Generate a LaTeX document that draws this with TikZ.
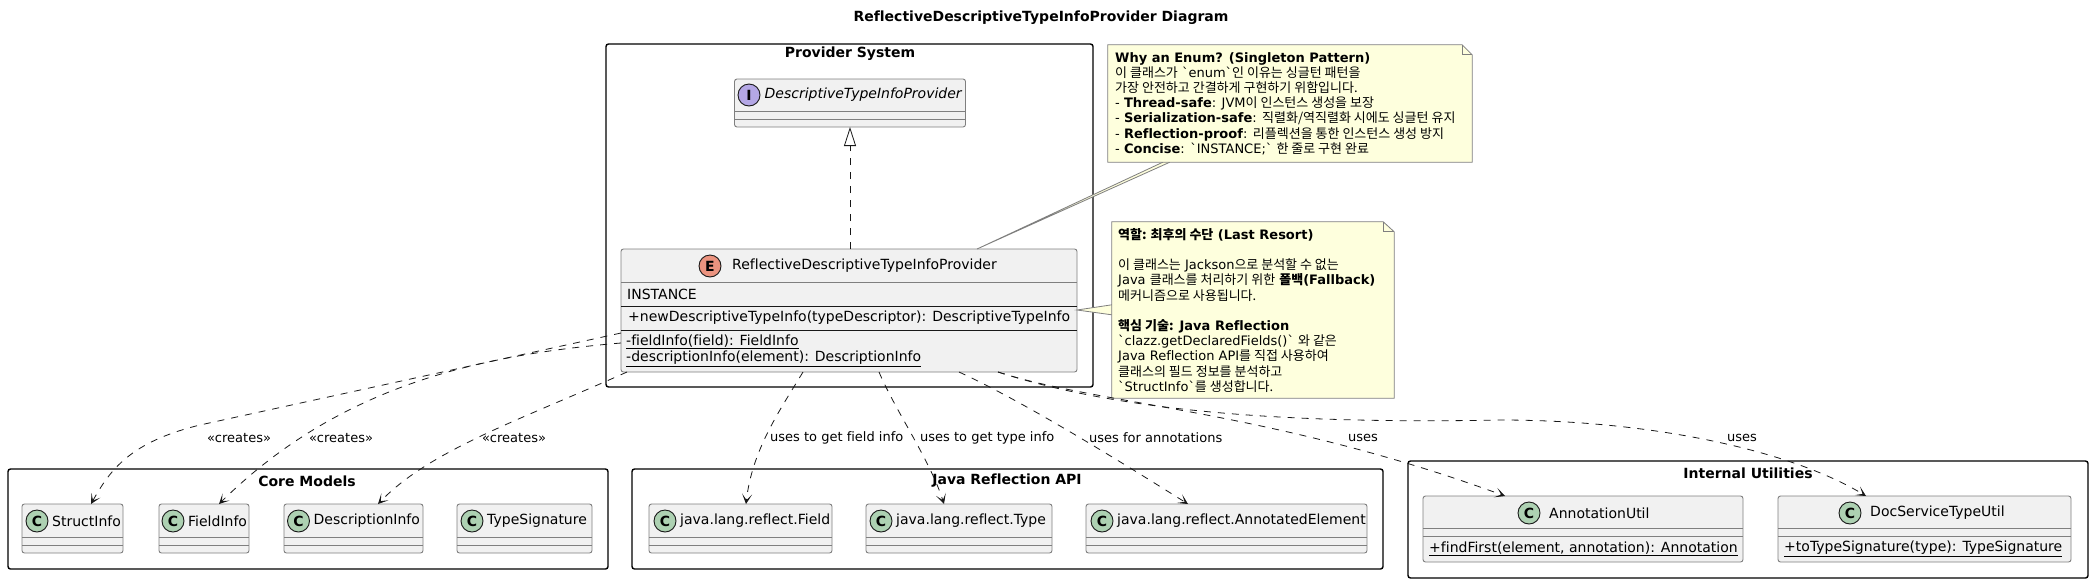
\documentclass[tikz,border=0pt]{standalone}
\usepackage{fontspec}
\usepackage{xcolor}
\usetikzlibrary{arrows.meta}
\newfontfamily\dejavu{DejaVu Sans}[Ligatures=NoCommon]
\newfontfamily\krfont{Noto Sans CJK KR}
\newcommand{\kr}[1]{{\krfont #1}}
\definecolor{boxfill}{HTML}{F1F1F1}
\definecolor{boxedge}{HTML}{7F7F7F}
\definecolor{notefill}{HTML}{FEFFDD}
\definecolor{inkdark}{HTML}{181818}
\definecolor{spotclass}{HTML}{ADD1B2}
\definecolor{spotenum}{HTML}{EB937F}
\definecolor{spotface}{HTML}{B4A7E5}
\tikzset{
	pkgbox/.style={draw=black, line width=1.4pt, rounded corners=2.5pt, inner sep=0pt, outer sep=0pt},
	pkgtitle/.style={font=\dejavu\bfseries\fontsize{14}{16}\selectfont, text=black},
	classbox/.style={draw=boxedge, fill=boxfill, line width=0.9pt, rounded corners=2.5pt, inner sep=0pt, outer sep=0pt},
	classline/.style={draw=boxedge, line width=0.9pt},
	memberline/.style={draw=inkdark, line width=0.9pt},
	spot/.style={circle, draw=inkdark, line width=0.9pt, minimum size=22pt, inner sep=0pt, font=\dejavu\bfseries\fontsize{14}{14}\selectfont},
	classtext/.style={anchor=west, inner sep=0pt, font=\dejavu\fontsize{14}{16}\selectfont, text=black},
	notetext/.style={anchor=north west, inner sep=0pt, align=left, font=\dejavu\fontsize{13}{15.2}\selectfont, text=black},
	noteshape/.style={draw=boxedge, fill=notefill, line width=0.8pt, line join=miter},
	edgelabel/.style={anchor=west, inner sep=0pt, font=\dejavu\fontsize{13}{15}\selectfont, text=black},
	dep/.style={draw=inkdark, line width=0.8pt, dash pattern=on 7pt off 7pt, -{Stealth[length=10pt,width=10pt,inset=6pt]}},
	realize/.style={draw=inkdark, line width=0.8pt, dash pattern=on 7pt off 7pt, -{Triangle[open,length=19pt,width=12pt]}}
}
\begin{document}
\begin{tikzpicture}[x=1pt,y=-1pt]
	\useasboundingbox (0,0) rectangle (2093,582);
	
	% Title
	\node (title) at (1041,18) [pkgtitle] {ReflectiveDescriptiveTypeInfoProvider Diagram};
	
	% Packages
	\node (provider) at (849.5,215.5) [pkgbox, minimum width=487pt, minimum height=343pt] {};
	\node at (850,54) [pkgtitle] {Provider System};
	\node (core) at (308,519) [pkgbox, minimum width=600pt, minimum height=100pt] {};
	\node at (307,481) [pkgtitle] {Core Models};
	\node (reflect) at (1007.5,519) [pkgbox, minimum width=751pt, minimum height=100pt] {};
	\node at (1007,481) [pkgtitle] {Java Reflection API};
	\node (internal) at (1748,519.5) [pkgbox, minimum width=680pt, minimum height=117pt] {};
	\node at (1748,473) [pkgtitle] {Internal Utilities};
	
	% Interface
	\node (iface) at (850,103) [classbox, minimum width=231pt, minimum height=48pt] {};
	\draw[classline] ([yshift=-32pt]iface.north west) -- ([yshift=-32pt]iface.north east);
	\draw[classline] ([yshift=-40pt]iface.north west) -- ([yshift=-40pt]iface.north east);
	\node (ifacespot) at (749,95) [spot, fill=spotface] {I};
	\node (ifacetext) at (764.5,95) [classtext] {\itshape DescriptiveTypeInfoProvider};
	
	% Enum
	\node (enum) at (849,310.5) [classbox, minimum width=456pt, minimum height=123pt] {};
	\draw[classline] ([yshift=-33pt]enum.north west) -- ([yshift=-33pt]enum.north east);
	\draw[memberline] ([yshift=-57pt]enum.north west) -- ([yshift=-57pt]enum.north east);
	\draw[memberline] ([yshift=-81pt]enum.north west) -- ([yshift=-81pt]enum.north east);
	\node (enumspot) at (710,266) [spot, fill=spotenum] {E};
	\node (enumtext) at (732,266) [classtext] {ReflectiveDescriptiveTypeInfoProvider};
	\node (instance) at (627,294) [classtext] {INSTANCE};
	\node (newinfo) at (628,318) [classtext] {+newDescriptiveTypeInfo(typeDescriptor): DescriptiveTypeInfo};
	\node (fieldinfo) at (626,342) [classtext] {\underline{-fieldInfo(field): FieldInfo}};
	\node (descinfo) at (626,359) [classtext] {\underline{-descriptionInfo(element): DescriptionInfo}};
	
	% Small classes
	\foreach \nm/\cx/\bw/\sx/\txt in {structInfo/72.5/101/37/StructInfo, fieldInfo/204/90/173/FieldInfo,
		descriptionInfo/353.5/139/298.5/DescriptionInfo, typeSignature/524.5/135/472/TypeSignature,
		fieldRef/740.5/183/665/java.lang.reflect.Field, typeRef/959/186/881/java.lang.reflect.Type,
		annotatedRef/1226.5/281/1102/java.lang.reflect.AnnotatedElement}
	{
		\node (\nm) at (\cx,528.5) [classbox, minimum width=\bw pt, minimum height=49pt] {};
		\draw[classline] ([yshift=-33pt]\nm.north west) -- ([yshift=-33pt]\nm.north east);
		\draw[classline] ([yshift=-41pt]\nm.north west) -- ([yshift=-41pt]\nm.north east);
		\node (\nm spot) at (\sx,521) [spot, fill=spotclass] {C};
		\pgfmathsetmacro{\tx}{\sx+15}
		\node (\nm text) at (\tx,521) [classtext] {\txt};
	}
	
	% Utility classes
	\foreach \nm/\cx/\bw/\sx/\mx/\txt/\mem in {annotationUtil/1583/320/1529/1429/AnnotationUtil/+findFirst(element{,} annotation): Annotation,
		docServiceUtil/1924.5/293/1850/1784/DocServiceTypeUtil/+toTypeSignature(type): TypeSignature}
	{
		\node (\nm) at (\cx,529) [classbox, minimum width=\bw pt, minimum height=66pt] {};
		\draw[classline] ([yshift=-32pt]\nm.north west) -- ([yshift=-32pt]\nm.north east);
		\draw[classline] ([yshift=-40pt]\nm.north west) -- ([yshift=-40pt]\nm.north east);
		\node (\nm spot) at (\sx,513) [spot, fill=spotclass] {C};
		\pgfmathsetmacro{\tx}{\sx+20}
		\node (\nm text) at (\tx,513) [classtext] {\txt};
		\node (\nm member) at (\mx,549) [classtext] {\underline{\mem}};
	}
	
	% Notes
	\node (whynote) at (1290,103.5) [minimum width=364pt, minimum height=117pt, inner sep=0pt] {};
	\coordinate (whywedgeA) at ([xshift=55pt]whynote.south west);
	\coordinate (whywedgeB) at ([xshift=62pt]whynote.south west);
	\draw[noteshape] (whywedgeA) -- ([xshift=356pt]enum.north west) -- (whywedgeB);
	\draw[noteshape] (whynote.south west) -- (whynote.north west) -- ([xshift=-10pt]whynote.north east)
		-- ([yshift=-10pt]whynote.north east) -- (whynote.south east) -- (whywedgeB) -- (whywedgeA) -- cycle;
	\draw[noteshape, fill=none] ([xshift=-10pt]whynote.north east) -- ([xshift=-10pt,yshift=-10pt]whynote.north east) -- ([yshift=-10pt]whynote.north east);
	\node (whytext) at (1115,52) [notetext] {\textbf{Why an Enum? (Singleton Pattern)}\\
		\kr{이 클래스가} `enum`\kr{인 이유는 싱글턴 패턴을}\\
		\kr{가장 안전하고 간결하게 구현하기 위함입니다.}\\
		- \textbf{Thread-safe}: JVM\kr{이 인스턴스 생성을 보장}\\
		- \textbf{Serialization-safe}: \kr{직렬화/역직렬화 시에도 싱글턴 유지}\\
		- \textbf{Reflection-proof}: \kr{리플렉션을 통한 인스턴스 생성 방지}\\
		- \textbf{Concise}: `INSTANCE;` \kr{한 줄로 구현 완료}};
	
	\node (rolenote) at (1253,310) [minimum width=282pt, minimum height=176pt, inner sep=0pt] {};
	\coordinate (rolewedgeA) at ([yshift=-83pt]rolenote.north west);
	\coordinate (rolewedgeB) at ([yshift=-93pt]rolenote.north west);
	\draw[noteshape] (rolewedgeA) -- ([yshift=-61pt]enum.north east) -- (rolewedgeB);
	\draw[noteshape] (rolewedgeA) -- (rolenote.north west) -- ([xshift=-11pt]rolenote.north east)
		-- ([yshift=-10pt]rolenote.north east) -- (rolenote.south east) -- (rolenote.south west) -- (rolewedgeB) -- cycle;
	\draw[noteshape, fill=none] ([xshift=-11pt]rolenote.north east) -- ([xshift=-11pt,yshift=-10pt]rolenote.north east) -- ([yshift=-10pt]rolenote.north east);
	\node (roletext) at (1118,228) [notetext] {\textbf{\kr{역할: 최후의 수단} (Last Resort)}\\[15.2pt]
		\kr{이 클래스는} Jackson\kr{으로 분석할 수 없는}\\
		Java \kr{클래스를 처리하기 위한} \textbf{\kr{폴백}(Fallback)}\\
		\kr{메커니즘으로 사용됩니다.}\\[15.2pt]
		\textbf{\kr{핵심 기술:} Java Reflection}\\
		`clazz.getDeclaredFields()` \kr{와 같은}\\
		Java Reflection API\kr{를 직접 사용하여}\\
		\kr{클래스의 필드 정보를 분석하고}\\
		`StructInfo`\kr{를 생성합니다.}};
	
	% Connectors
	\draw[realize] ([xshift=1pt]enum.north) -- (iface.south);
	\draw[dep] ([yshift=-84pt]enum.north west) -- (200,425) .. controls (130,442) and (110,470) .. ([xshift=69pt]structInfo.north west);
	\draw[dep] ([yshift=-94pt]enum.north west) .. controls (480,355) and (340,385) .. ([xshift=60pt]fieldInfo.north west);
	\draw[dep] ([xshift=6pt]enum.south west) .. controls (520,420) and (430,450) .. ([xshift=94pt]descriptionInfo.north west);
	\draw[dep] ([xshift=182pt]enum.south west) .. controls (780,410) and (752,450) .. ([xshift=97pt]fieldRef.north west);
	\draw[dep] ([xshift=258pt]enum.south west) .. controls (895,410) and (930,460) .. ([xshift=78pt]typeRef.north west);
	\draw[dep] ([xshift=338pt]enum.south west) .. controls (1020,400) and (1110,455) .. ([xshift=102pt]annotatedRef.north west);
	\draw[dep] ([xshift=377pt]enum.south west) .. controls (1100,405) and (1270,410) .. ([xshift=82pt]annotationUtil.north west);
	\draw[dep] ([xshift=377pt]enum.south west) .. controls (1100,405) and (1250,425) .. (1500,420) .. controls (1650,420) and (1790,450) .. ([xshift=88pt]docServiceUtil.north west);
	
	% Connector labels
	\node (labstruct) at (239,438) [edgelabel, anchor=center] {«creates»};
	\node (labfield) at (341,438) [edgelabel, anchor=center] {«creates»};
	\node (labdesc) at (514,438) [edgelabel, anchor=center] {«creates»};
	\node (labfieldref) at (770,438) [edgelabel] {uses to get field info};
	\node (labtyperef) at (920,438) [edgelabel] {uses to get type info};
	\node (labannot) at (1089,438) [edgelabel] {uses for annotations};
	\node (labutil) at (1363,438) [edgelabel, anchor=center] {uses};
	\node (labdoc) at (1742,438) [edgelabel, anchor=center] {uses};
\end{tikzpicture}
\end{document}
